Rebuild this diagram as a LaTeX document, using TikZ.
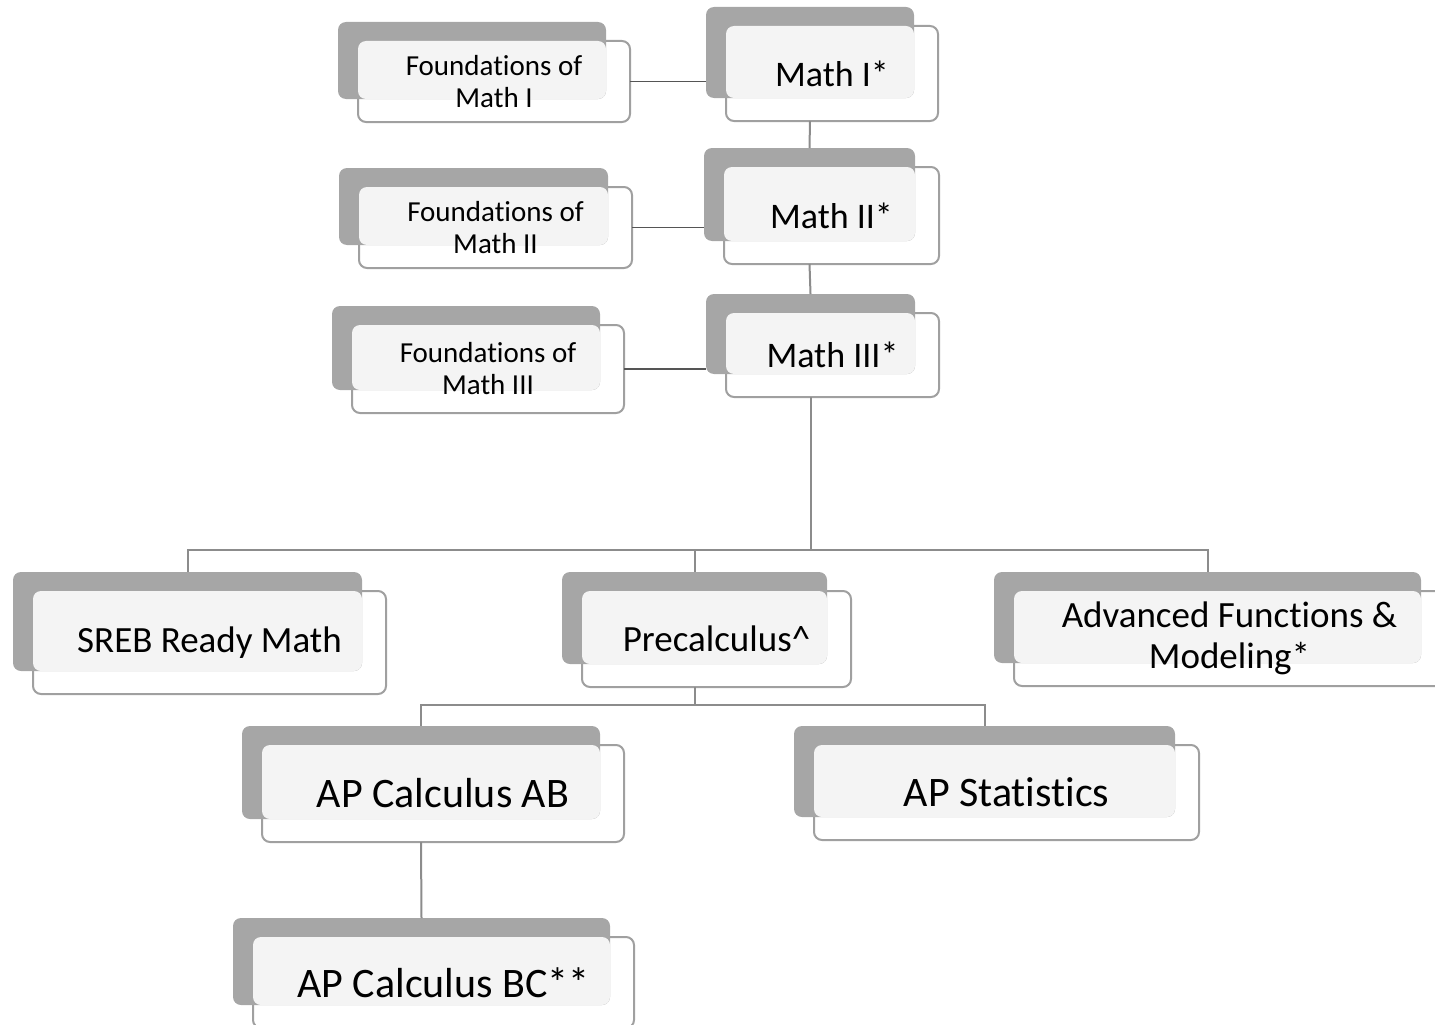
\documentclass[tikz,border=0pt]{standalone}
\usepackage{fontspec}
\setmainfont{Carlito}[Ligatures=NoCommon]
\usetikzlibrary{calc}
\definecolor{crsback}{RGB}{166,166,166}
\definecolor{crsedge}{RGB}{160,160,160}
\definecolor{crsfill}{RGB}{244,244,244}
\definecolor{crsline}{RGB}{85,85,85}
\definecolor{crstree}{RGB}{140,140,140}
\newcommand{\fndfont}{\fontsize{29}{32}\selectfont}
\newcommand{\mthfont}{\fontsize{36}{40}\selectfont}
\newcommand{\midfont}{\fontsize{37}{41}\selectfont}
\newcommand{\apfont}{\fontsize{42}{46}\selectfont}

\begin{document}
\begin{tikzpicture}[x=1pt, y=-1pt,
      front/.style={rectangle, rounded corners=8pt, draw=crsedge, line width=2pt, fill=white, inner sep=0pt, outer sep=0pt},
      back/.style={rectangle, rounded corners=8pt, fill=crsback, inner sep=0pt, outer sep=0pt},
      title/.style={align=center, inner sep=0pt, text=black},
      side/.style={draw=crsline, line width=1.5pt},
      tree/.style={draw=crstree, line width=2pt}
    ]
      \useasboundingbox (0,0) rectangle (1435,1025);

      % Courses: front card, grey tab behind, shaded overlap, title
      \foreach \n/\x/\y/\w/\h/\f/\t in {
          fm1/494/81.5/272/81/\fndfont/{Foundations of\\Math I},
          m1/832/73.5/212/95/\mthfont/{Math I*},
          fm2/495.5/227.5/273/81/\fndfont/{Foundations of\\Math II},
          m2/831.5/215.5/215/97/\mthfont/{Math II*},
          fm3/488/369/272/88/\fndfont/{Foundations of\\Math III},
          m3/832.5/355/213/84/\mthfont/{Math III*},
          sreb/209.5/642.5/353/103/\midfont/{SREB Ready Math},
          pre/716.5/639/269/96/\midfont/{Precalculus\textasciicircum},
          afm/1229.5/638.5/431/95/\midfont/{Advanced Functions \&\\Modeling*},
          ab/443/793.5/362/97/\apfont/{AP Calculus AB},
          stat/1006.5/792.5/385/95/\apfont/{AP Statistics},
          bc/443.5/982.5/381/91/\apfont/{AP Calculus BC**}}{
        \node[front, minimum width=\w, minimum height=\h] (\n) at (\x,\y) {};
        \node[back, minimum width=\w-4, minimum height=\h-4] (\n-b) at (\x-22,\y-21) {};
        \fill[crsfill, rounded corners=8pt] (\n.north west) rectangle (\n-b.south east);
        \node[title, font=\f] (\n-t) at (\n) {\t};
      }

      % Foundations links
      \draw[side] (fm1.east) -- (fm1.east -| m1-b.west);
      \draw[side] (fm2.east) -- (fm2.east -| m2-b.west);
      \draw[side] (fm3.east) -- (fm3.east -| m3-b.west);

      % Main sequence
      \draw[tree] (m1-b.south |- m1.south) -- (m2-b.north);
      \draw[tree] (m2-b.south |- m2.south) -- (m3-b.north);
      \draw[tree] (m3-b.south |- m3.south) -- ++(0,153) coordinate (hubA) -| (afm-b.north);
      \draw[tree] (hubA) -| (sreb-b.north);
      \draw[tree] (hubA) -| (pre-b.north);

      % After Precalculus
      \draw[tree] (pre-b.south |- pre.south) -- ++(0,18) coordinate (hubB) -| (ab-b.north);
      \draw[tree] (hubB) -| (stat-b.north);
      \draw[tree] (ab-b.south |- ab.south) -- (bc-b.north);
    \end{tikzpicture}
\end{document}
